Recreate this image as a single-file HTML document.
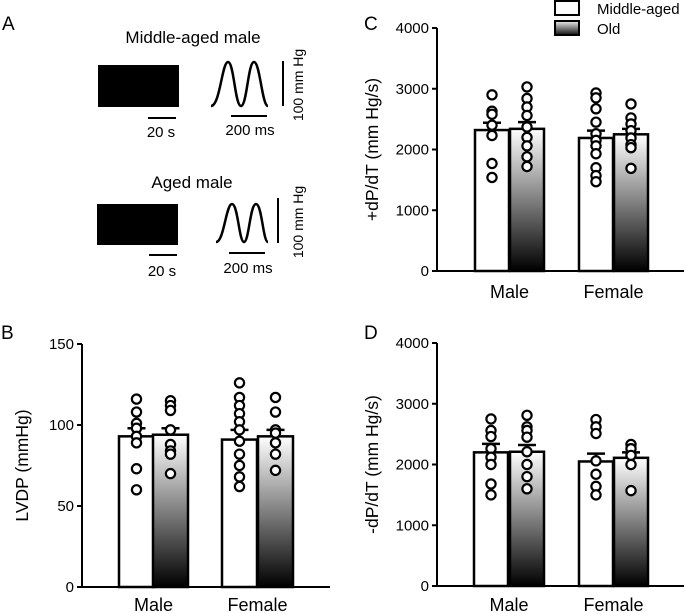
<!DOCTYPE html>
<html><head><meta charset="utf-8"><style>
body{margin:0;background:#fff}
svg{display:block;font-family:"Liberation Sans",Arial,sans-serif}
</style></head><body>
<svg id="fig" width="685" height="613" viewBox="0 0 685 613">
<defs>
<linearGradient id="g" x1="0" y1="0" x2="0" y2="1"><stop offset="0" stop-color="#fff"/><stop offset="1" stop-color="#000"/></linearGradient>
<linearGradient id="gl" x1="0" y1="0" x2="0" y2="1"><stop offset="0" stop-color="#eee"/><stop offset="1" stop-color="#111"/></linearGradient>
</defs>
<g>
<text x="2" y="30" font-size="19">A</text>
<text x="193" y="43" font-size="17" text-anchor="middle">Middle-aged male</text>
<rect x="98" y="65" width="81" height="42" fill="#000"/>
<line x1="148" y1="118" x2="176" y2="118" stroke="#000" stroke-width="2"/>
<text x="161" y="137" font-size="15" text-anchor="middle">20 s</text>
<path d="M211,106 C220,106 222,62 228,62 C234,62 235,106 241,106 C247,106 248,62 254,62 C260,62 262,106 268,106" fill="none" stroke="#000" stroke-width="2.5"/>
<line x1="231" y1="116" x2="267" y2="116" stroke="#000" stroke-width="2"/>
<text x="250" y="135" font-size="15" text-anchor="middle">200 ms</text>
<line x1="283" y1="61" x2="283" y2="106" stroke="#000" stroke-width="2"/>
<text transform="translate(303,85) rotate(-90)" font-size="14" text-anchor="middle">100 mm Hg</text>
<text x="192" y="188" font-size="17" text-anchor="middle">Aged male</text>
<rect x="97" y="204" width="81" height="41" fill="#000"/>
<line x1="149" y1="255" x2="177" y2="255" stroke="#000" stroke-width="2"/>
<text x="162" y="276" font-size="15" text-anchor="middle">20 s</text>
<path d="M216,242 C224,242 226,204 232,204 C238,204 239,242 244,242 C249,242 250,204 256,204 C262,204 263,242 268,242" fill="none" stroke="#000" stroke-width="2.5"/>
<line x1="229" y1="253" x2="265" y2="253" stroke="#000" stroke-width="2"/>
<text x="248" y="273" font-size="15" text-anchor="middle">200 ms</text>
<line x1="278" y1="198" x2="278" y2="243" stroke="#000" stroke-width="2"/>
<text transform="translate(303,222) rotate(-90)" font-size="14" text-anchor="middle">100 mm Hg</text>
</g>
<text x="1" y="339" font-size="19">B</text>
<text x="364" y="30" font-size="19">C</text>
<text x="364" y="339" font-size="19">D</text>
<g>
<rect x="555" y="1" width="24" height="14" fill="#fff" stroke="#000" stroke-width="2"/>
<text x="597" y="14" font-size="15">Middle-aged</text>
<rect x="555" y="21" width="24" height="14" fill="url(#gl)" stroke="#000" stroke-width="2"/>
<text x="597" y="34" font-size="15">Old</text>
</g>
<g id="charts"></g>
</svg>
<script>
const categories = ["Male","Female"];
const groups = ["Middle-aged","Old"];
// Panel B LVDP
const bMeans = [[93,94],[91,93]];
const bErr = [[98,98],[97,97]];
const bPoints = [[[116,108,101,98,93,89,73,60],[115,112,109,97,88,84,82,70]],[[126,117,112,107,102,97,90,82,75,68,62],[117,108,97,95,89,82,72]]];
const bTicks = [0,50,100,150];
// Panel C +dP/dT
const cMeans = [[2320,2340],[2190,2250]];
const cErr = [[2440,2450],[2310,2340]];
const cPoints = [[[2900,2630,2580,2400,2230,1770,1540],[3030,2840,2700,2560,2370,2200,2060,1880,1720]],[[2930,2850,2670,2450,2260,2150,2060,1930,1700,1570,1470],[2750,2520,2420,2310,2190,2080,2030,1690]]];
const cTicks = [0,1000,2000,3000,4000];
// Panel D -dP/dT
const dMeans = [[2200,2210],[2050,2110]];
const dErr = [[2340,2320],[2180,2200]];
const dPoints = [[[2750,2560,2460,2260,2120,2000,1680,1500],[2810,2620,2560,2450,2210,2000,1800,1600]],[[2740,2620,2510,2060,1840,1640,1500],[2330,2260,2150,2000,1570]]];
const dTicks = [0,1000,2000,3000,4000];

const NS="http://www.w3.org/2000/svg";
const root=document.getElementById('charts');
function mk(tag,attrs,parent){const e=document.createElementNS(NS,tag);for(const k in attrs)e.setAttribute(k,attrs[k]);(parent||root).appendChild(e);return e;}

function chart(id,cfg,means,errs,points,ticks,title){
  const g=mk('g',{});
  
  
  const max=ticks[ticks.length-1];
  const y=v=>cfg.y0-(v/max)*(cfg.y0-cfg.yTop);
  const ax=mk('path',{d:`M${cfg.x0},${y(max)} V${cfg.y0} H${cfg.xEnd}`,fill:'none',stroke:'#000','stroke-width':2},g);
  
  
  ticks.forEach(t=>{
    const tl=mk('line',{x1:cfg.x0-5,x2:cfg.x0,y1:y(t),y2:y(t),stroke:'#000','stroke-width':2},g);
    
    
    const tx=mk('text',{x:cfg.x0-8,y:y(t)+5,'font-size':15,'text-anchor':'end'},g);
    tx.textContent=t;
    
    
  });
  const yt=mk('text',{transform:`translate(${cfg.tx},${(cfg.y0+cfg.yTop)/2}) rotate(-90)`,'font-size':17.5,'text-anchor':'middle'},g);
  yt.textContent=title;
  
  
  categories.forEach((c,ci)=>{
    groups.forEach((gr,gi)=>{
      const bx=cfg.bars[ci][gi], bw=cfg.bw, cx=bx+bw/2;
      const r=mk('rect',{x:bx,y:y(means[ci][gi]),width:bw,height:cfg.y0-y(means[ci][gi]),fill:gi?'url(#g)':'#fff',stroke:'#000','stroke-width':2.5},g);
      
      
      const e=mk('path',{d:`M${cx},${y(means[ci][gi])} V${y(errs[ci][gi])} M${cx-9},${y(errs[ci][gi])} H${cx+9}`,stroke:'#000','stroke-width':2.5,fill:'none'},g);
      
      
      points[ci][gi].forEach(p=>{
        const pt=mk('circle',{cx:cx,cy:y(p),r:4.6,fill:'#fff',stroke:'#000','stroke-width':2.2},g);
        
        
      });
    });
    const cl=mk('text',{x:(cfg.bars[ci][0]+cfg.bars[ci][1]+cfg.bw)/2,y:cfg.y0+cfg.cy,'font-size':18,'text-anchor':'middle'},g);
    cl.textContent=c;
    
    
  });
}
chart('lvdp',{x0:82,xEnd:330,y0:587,yTop:344,bw:35,tx:28,cy:24,bars:[[119,153],[222,258]]},bMeans,bErr,bPoints,bTicks,'LVDP (mmHg)');
chart('plus-dpdt',{x0:437,xEnd:684,y0:271,yTop:28,bw:34,tx:378,cy:27,bars:[[475,510],[579,614]]},cMeans,cErr,cPoints,cTicks,'+dP/dT (mm Hg/s)');
chart('minus-dpdt',{x0:437,xEnd:684,y0:586,yTop:343,bw:34,tx:378,cy:25,bars:[[474,510],[579,614]]},dMeans,dErr,dPoints,dTicks,'-dP/dT (mm Hg/s)');
</script>
</body></html>
